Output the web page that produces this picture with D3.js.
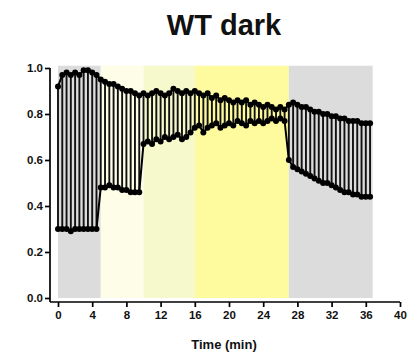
<!DOCTYPE html>
<html><head><meta charset="utf-8">
<script src="https://cdn.jsdelivr.net/npm/d3@7"></script>
<style>body{margin:0;background:#fff}svg{display:block}text{font-family:Arial,"Liberation Sans",sans-serif}</style>
</head><body><svg id="c" width="411" height="363"></svg>
<script>
const times = d3.range(0, 37, 0.5);
const upper = [0.92,0.97,0.98,0.97,0.98,0.97,0.99,0.99,0.98,0.97,
  0.95,0.94,0.93,0.93,0.92,0.91,0.90,0.90,0.89,0.88,
  0.89,0.88,0.89,0.90,0.89,0.88,0.89,0.91,0.90,0.89,0.90,0.89,
  0.90,0.89,0.88,0.89,0.87,0.88,0.86,0.87,0.86,0.85,0.86,0.85,0.86,0.84,0.85,0.84,0.83,0.84,0.83,0.82,0.83,0.82,
  0.84,0.85,0.84,0.83,0.83,0.82,0.81,0.81,0.80,0.80,0.79,0.79,0.78,0.78,0.77,0.77,0.77,0.76,0.76,0.76];
const lower = [0.30,0.30,0.30,0.29,0.30,0.30,0.30,0.30,0.30,0.30,
  0.48,0.48,0.49,0.48,0.48,0.47,0.47,0.46,0.46,0.46,
  0.67,0.68,0.67,0.69,0.68,0.70,0.69,0.70,0.71,0.69,0.70,0.72,
  0.74,0.75,0.72,0.74,0.75,0.76,0.74,0.75,0.76,0.75,0.77,0.76,0.75,0.77,0.76,0.77,0.76,0.77,0.78,0.77,0.78,0.77,
  0.60,0.57,0.56,0.55,0.54,0.53,0.52,0.51,0.50,0.50,0.49,0.48,0.47,0.46,0.46,0.45,0.45,0.44,0.44,0.44];
const bandStart = [0, 5, 10, 16, 27];
const bandEnd = [5, 10, 16, 27, 36.8];
const bandColor = ["#dcdcdc", "#fefde8", "#f5f9cc", "#fdfb9e", "#dcdcdc"];
const xTicks = d3.range(0, 41, 4);
const yTicks = [0, 0.2, 0.4, 0.6, 0.8, 1.0];

const svg = d3.select("#c");
const x = d3.scaleLinear().domain([0, 40]).range([58, 400]);
const y = d3.scaleLinear().domain([0, 1]).range([298, 68]);

svg.append("g").selectAll("rect").data(bandStart).join("rect")
  .attr("x", (d) => x(d))
  .attr("width", (d, i) => x(bandEnd[i]) - x(d))
  .attr("y", y(1.01)).attr("height", y(0) - y(1.01))
  .attr("fill", (d, i) => bandColor[i]);

const pts = times.map((t, i) => ({t, u: upper[i], l: lower[i]}));
svg.append("g").selectAll("line").data(pts).join("line")
  .attr("x1", d => x(d.t)).attr("x2", d => x(d.t))
  .attr("y1", d => y(d.u)).attr("y2", d => y(d.l))
  .attr("stroke", "#111").attr("stroke-width", 1.9);
const line = d3.line().x(d => x(d[0])).y(d => y(d[1]));
[upper, lower].forEach(s => {
  svg.append("path").datum(times.map((t, i) => [t, s[i]]))
    .attr("d", line).attr("fill", "none").attr("stroke", "#000").attr("stroke-width", 2);
  svg.append("g").selectAll("circle").data(times.map((t, i) => [t, s[i]])).join("circle")
    .attr("cx", d => x(d[0])).attr("cy", d => y(d[1])).attr("r", 3).attr("fill", "#000");
});

const yAxis = svg.append("g").attr("transform", "translate(50,0)")
  .call(d3.axisLeft(y).tickValues(yTicks).tickFormat(d3.format(".1f")).tickSize(5).tickSizeOuter(0));
yAxis.select(".domain").attr("d", `M0,${y(1)}V302`);
const xAxis = svg.append("g").attr("transform", "translate(0,302)")
  .call(d3.axisBottom(x).tickValues(xTicks).tickSize(5).tickSizeOuter(0));
xAxis.select(".domain").attr("d", "M50,0H400");
[yAxis, xAxis].forEach(a => {
  a.selectAll(".domain, line").attr("stroke", "#000").attr("stroke-width", 1.7);
  a.selectAll("text").attr("font-size", 11.5).attr("font-weight", "bold").attr("fill", "#111")
    .attr("font-family", "Arial, 'Liberation Sans', sans-serif");
});
yAxis.selectAll("text").attr("x", -7);
xAxis.selectAll("text").attr("y", 9);

svg.append("text").attr("x", 224).attr("y", 35).attr("text-anchor", "middle")
  .attr("font-size", 29).attr("font-weight", "bold").attr("fill", "#111").text("WT dark");
svg.append("text").attr("x", 224).attr("y", 349).attr("text-anchor", "middle")
  .attr("font-size", 13).attr("font-weight", "bold").attr("fill", "#111").text("Time (min)");
</script></body></html>
